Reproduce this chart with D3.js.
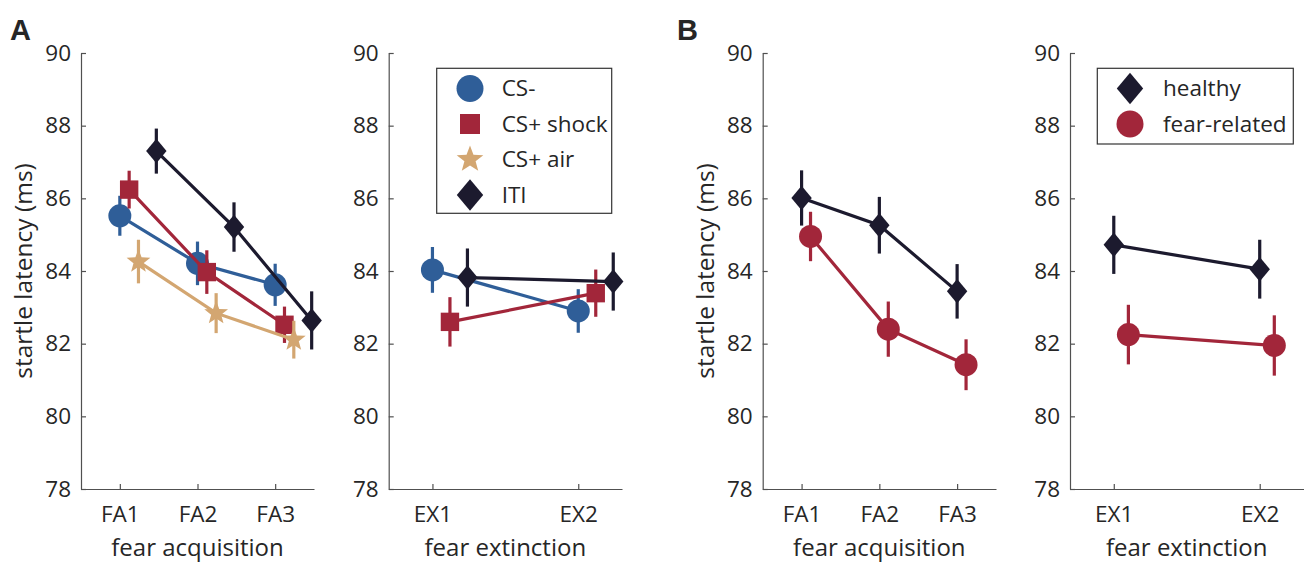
<!DOCTYPE html>
<html><head><meta charset="utf-8">
<script src="https://cdn.jsdelivr.net/npm/d3@7"></script>
<style>
body{margin:0;background:#fff;}
text{font-family:"Open Sans",sans-serif;fill:#262626;}
</style></head>
<body><svg id="c" width="1306" height="563"></svg>
<script>
// ---------- data ----------
const faCats = ["FA1","FA2","FA3"];
const exCats = ["EX1","EX2"];
const yTicks = [78,80,82,84,86,88,90];

// Panel A: stimulus types
const seriesA = ["CS-","CS+ shock","CS+ air","ITI"];
const A_fa_csMinus   = [85.52, 84.21, 83.62];
const A_fa_csMinusE  = [0.55, 0.60, 0.58];
const A_fa_shock     = [86.24, 83.97, 82.52];
const A_fa_shockE    = [0.52, 0.60, 0.50];
const A_fa_air       = [84.26, 82.84, 82.11];
const A_fa_airE      = [0.60, 0.55, 0.52];
const A_fa_iti       = [87.30, 85.21, 82.64];
const A_fa_itiE      = [0.62, 0.68, 0.80];
const A_ex_csMinus   = [84.03, 82.90];
const A_ex_csMinusE  = [0.63, 0.60];
const A_ex_shock     = [82.60, 83.39];
const A_ex_shockE    = [0.68, 0.65];
const A_ex_iti       = [83.82, 83.71];
const A_ex_itiE      = [0.80, 0.80];
const A_fa_offsets   = [0, 0.12, 0.24, 0.47];
const A_ex_offsets   = [0, 0.12, 0.24];

// Panel B: groups
const seriesB = ["healthy","fear-related"];
const B_fa_healthy   = [86.01, 85.26, 83.44];
const B_fa_healthyE  = [0.76, 0.78, 0.75];
const B_fa_fear      = [84.95, 82.40, 81.42];
const B_fa_fearE     = [0.68, 0.76, 0.70];
const B_ex_healthy   = [84.72, 84.05];
const B_ex_healthyE  = [0.80, 0.81];
const B_ex_fear      = [82.25, 81.95];
const B_ex_fearE     = [0.82, 0.83];
const B_fa_offsets   = [0, 0.115];
const B_ex_offsets   = [0, 0.10];

// ---------- style ----------
const COL = {blue:"#2f5e98", red:"#a2263a", tan:"#d3a671", dark:"#1c1a2e"};
const axisCol = "#505050";
const svg = d3.select("#c");
const Y0 = 489, Y1 = 53;
const y = d3.scaleLinear().domain([78,90]).range([Y0,Y1]);

function markerPath(shape, s){
  if(shape==="circle") return d3.symbol(d3.symbolCircle, Math.PI*s*s)();
  if(shape==="square") return `M${-s},${-s}H${s}V${s}H${-s}Z`;
  if(shape==="diamond") return `M0,${-s*1.2}L${s},0L0,${s*1.2}L${-s},0Z`;
  if(shape==="star"){
    const pts=[]; const r=s*0.42;
    for(let k=0;k<10;k++){const a=-Math.PI/2+k*Math.PI/5; const rr=k%2?r:s; pts.push([rr*Math.cos(a),rr*Math.sin(a)]);}
    return "M"+pts.map(p=>p.join(",")).join("L")+"Z";
  }
}
const mSize = {circle:11.5, square:9.2, diamond:10.2, star:12.5};
const lSize = {circle:13.5, square:10, diamond:13.2, star:14};

function panel(x0, x1, domain, cats, series, xlabel, ylabelX){
  const x = d3.scaleLinear().domain(domain).range([x0,x1]);
  const g = svg.append("g");
  const yAx = d3.axisLeft(y).tickValues(yTicks).tickSizeInner(-5).tickSizeOuter(0).tickPadding(10);
  const ga = g.append("g").attr("transform",`translate(${x0},0)`).call(yAx);
  const xAx = d3.axisBottom(x).tickValues(cats.map((c,i)=>i+1)).tickFormat((d,i)=>cats[i])
      .tickSizeInner(-5).tickSizeOuter(0).tickPadding(17);
  const gx = g.append("g").attr("transform",`translate(0,${Y0})`).call(xAx);
  [ga,gx].forEach(a=>{
    a.selectAll("path,line").attr("stroke",axisCol).attr("stroke-width",1.2);
    a.selectAll("text").style("font-family","'Open Sans',sans-serif").style("font-size","22.5px").attr("fill","#262626");
  });
  g.append("text").attr("x",(x0+x1)/2).attr("y",555.5).attr("text-anchor","middle")
    .style("font-size","24px").text(xlabel);
  if(ylabelX!==null){
    g.append("text").attr("transform",`translate(${ylabelX},${(Y0+Y1)/2}) rotate(-90)`)
      .attr("text-anchor","middle").style("font-size","24.5px").text("startle latency (ms)");
  }
  series.forEach(s=>{
    const pts = s.vals.map((v,i)=>({x:x(i+1+s.off), y:y(v), lo:y(v-s.err[i]), hi:y(v+s.err[i])}));
    g.append("path").attr("d",d3.line().x(d=>d.x).y(d=>d.y)(pts))
      .attr("fill","none").attr("stroke",s.color).attr("stroke-width",3.2);
    g.selectAll(null).data(pts).enter().append("line")
      .attr("x1",d=>d.x).attr("x2",d=>d.x).attr("y1",d=>d.lo).attr("y2",d=>d.hi)
      .attr("stroke",s.color).attr("stroke-width",3.2);
    g.selectAll(null).data(pts).enter().append("path")
      .attr("d",markerPath(s.shape,mSize[s.shape]))
      .attr("transform",d=>`translate(${d.x},${d.y})`).attr("fill",s.color);
  });
}

function legend(x0,y0,w,h,items,mx,tx,ry,dy){
  const g = svg.append("g");
  g.append("rect").attr("x",x0).attr("y",y0).attr("width",w).attr("height",h)
    .attr("fill","#fff").attr("stroke","#333").attr("stroke-width",1.2);
  items.forEach((it,i)=>{
    const yy = ry + i*dy;
    g.append("path").attr("d",markerPath(it.shape, lSize[it.shape]))
      .attr("transform",`translate(${mx},${yy})`).attr("fill",it.color);
    g.append("text").attr("x",tx).attr("y",yy).attr("dy","0.35em").style("font-size","22.5px").text(it.name);
  });
}

const sA_fa = [
  {vals:A_fa_csMinus, err:A_fa_csMinusE, color:COL.blue, shape:"circle", off:A_fa_offsets[0]},
  {vals:A_fa_shock, err:A_fa_shockE, color:COL.red, shape:"square", off:A_fa_offsets[1]},
  {vals:A_fa_air, err:A_fa_airE, color:COL.tan, shape:"star", off:A_fa_offsets[2]},
  {vals:A_fa_iti, err:A_fa_itiE, color:COL.dark, shape:"diamond", off:A_fa_offsets[3]}];
const sA_ex = [
  {vals:A_ex_csMinus, err:A_ex_csMinusE, color:COL.blue, shape:"circle", off:A_ex_offsets[0]},
  {vals:A_ex_shock, err:A_ex_shockE, color:COL.red, shape:"square", off:A_ex_offsets[1]},
  {vals:A_ex_iti, err:A_ex_itiE, color:COL.dark, shape:"diamond", off:A_ex_offsets[2]}];
const sB_fa = [
  {vals:B_fa_healthy, err:B_fa_healthyE, color:COL.dark, shape:"diamond", off:B_fa_offsets[0]},
  {vals:B_fa_fear, err:B_fa_fearE, color:COL.red, shape:"circle", off:B_fa_offsets[1]}];
const sB_ex = [
  {vals:B_ex_healthy, err:B_ex_healthyE, color:COL.dark, shape:"diamond", off:B_ex_offsets[0]},
  {vals:B_ex_fear, err:B_ex_fearE, color:COL.red, shape:"circle", off:B_ex_offsets[1]}];

panel(81, 314, [0.5,3.5], faCats, sA_fa, "fear acquisition", 32);
panel(388.7, 622, [0.7,2.3], exCats, sA_ex, "fear extinction", null);
panel(762.7, 996, [0.5,3.5], faCats, sB_fa, "fear acquisition", 714);
panel(1070, 1303.5, [0.7,2.3], exCats, sB_ex, "fear extinction", null);

legend(436.7, 68.3, 175, 145, [
  {name:seriesA[0], color:COL.blue, shape:"circle"},
  {name:seriesA[1], color:COL.red, shape:"square"},
  {name:seriesA[2], color:COL.tan, shape:"star"},
  {name:seriesA[3], color:COL.dark, shape:"diamond"}], 470, 501.7, 88.5, 35.5);
legend(1097.3, 68.3, 196, 75.7, [
  {name:seriesB[0], color:COL.dark, shape:"diamond"},
  {name:seriesB[1], color:COL.red, shape:"circle"}], 1130, 1163, 88.5, 35.5);

svg.append("text").attr("x",10).attr("y",40).style("font-family","'Liberation Sans',Arial,sans-serif")
  .style("font-weight","bold").style("font-size","29px").attr("fill","#000").text("A");
svg.append("text").attr("x",677).attr("y",40).style("font-family","'Liberation Sans',Arial,sans-serif")
  .style("font-weight","bold").style("font-size","29px").attr("fill","#000").text("B");
</script></body></html>
